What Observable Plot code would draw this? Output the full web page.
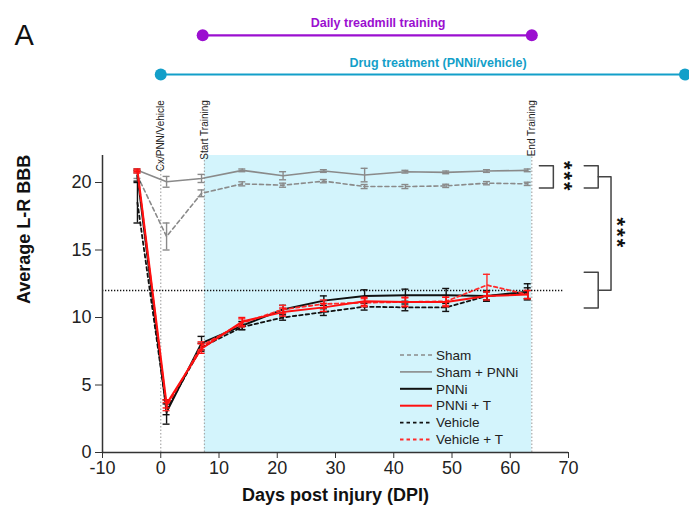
<!DOCTYPE html>
<html><head><meta charset="utf-8">
<script src="https://cdn.jsdelivr.net/npm/d3@7"></script>
<script src="https://cdn.jsdelivr.net/npm/@observablehq/plot@0.6"></script>
<style>
body{margin:0;background:#fff;font-family:"Liberation Sans",Arial,sans-serif;}
#chart{width:689px;height:520px;}
</style></head><body><div id="chart"></div>
<script>
// ---- data ----
const days = [-4, 1, 7, 14, 21, 28, 35, 42, 49, 56, 63];
const seriesNames = ["Sham", "Sham + PNNi", "PNNi", "PNNi + T", "Vehicle", "Vehicle + T"];
const sham      = [20.5, 16.0, 19.2, 19.9, 19.8, 20.1, 19.7, 19.7, 19.75, 19.95, 19.9];
const shamErr   = [0.2, 1.0, 0.25, 0.15, 0.15, 0.12, 0.15, 0.15, 0.12, 0.12, 0.12];
const shamPNNi    = [20.9, 20.05, 20.3, 20.9, 20.5, 20.85, 20.55, 20.8, 20.75, 20.85, 20.9];
const shamPNNiErr = [0.12, 0.4, 0.3, 0.1, 0.3, 0.1, 0.5, 0.1, 0.1, 0.1, 0.1];
const pnni      = [20.5, 3.0, 8.1, 9.4, 10.6, 11.25, 11.6, 11.65, 11.65, 11.6, 11.9];
const pnniErr   = [0.4, 0.9, 0.5, 0.3, 0.3, 0.35, 0.45, 0.45, 0.5, 0.4, 0.6];
const pnniT     = [20.9, 3.6, 7.7, 9.7, 10.4, 10.75, 11.2, 11.15, 11.15, 11.6, 11.7];
const pnniTErr  = [0.1, 0.3, 0.35, 0.3, 0.3, 0.3, 0.3, 0.35, 0.35, 0.3, 0.3];
const vehicle   = [18.5, 3.2, 7.8, 9.3, 10.0, 10.4, 10.8, 10.75, 10.75, 11.6, 11.8];
const vehicleErr= [1.5, 0.4, 0.3, 0.2, 0.2, 0.25, 0.25, 0.25, 0.3, 0.3, 0.4];
const vehicleT    = [20.8, 3.4, 7.9, 9.6, 10.6, 11.0, 11.1, 11.15, 11.2, 12.4, 11.7];
const vehicleTErr = [0.1, 0.3, 0.3, 0.3, 0.3, 0.3, 0.3, 0.3, 0.3, 0.8, 0.3];

const xTicks = [-10, 0, 10, 20, 30, 40, 50, 60, 70];
const yTicks = [0, 5, 10, 15, 20];

// events / timeline
const eventDays   = [0, 7.5, 63.7];
const eventLabels = ["Cx/PNN/Vehicle", "Start Training", "End Training"];
const trainingWindow = [7.5, 63.7];
const timelineLabels = ["Daily treadmill training", "Drug treatment (PNNi/vehicle)"];
const timelineStart  = [7.2, 0];
const timelineEnd    = [63.7, 90];
const timelineLevel  = [30.9, 28.0];
const timelineLabelDay = [37.3, 47.6];
const refLevel = 12;

// significance brackets (data units)
const bracketTop = [21.25, 19.6];   // sham+PNNi vs sham
const bracketLow = [13.35, 10.7];   // injured groups

// ---- styles ----
const colors = {"Sham":"#8a8a8a","Sham + PNNi":"#8a8a8a","PNNi":"#111","PNNi + T":"#ff1010","Vehicle":"#111","Vehicle + T":"#ff2a2a"};
const dashes = {"Sham":"4,3","Sham + PNNi":null,"PNNi":null,"PNNi + T":null,"Vehicle":"3.5,3","Vehicle + T":"3.5,3"};
const widths = {"Sham":1.6,"Sham + PNNi":1.6,"PNNi":2,"PNNi + T":2,"Vehicle":1.8,"Vehicle + T":1.8};
const tlColors = ["#9b0fd0", "#139fc9"];

const valuesBy = {"Sham":[sham,shamErr],"Sham + PNNi":[shamPNNi,shamPNNiErr],"PNNi":[pnni,pnniErr],"PNNi + T":[pnniT,pnniTErr],"Vehicle":[vehicle,vehicleErr],"Vehicle + T":[vehicleT,vehicleTErr]};
const drawOrder = ["Sham","Sham + PNNi","Vehicle","PNNi","Vehicle + T","PNNi + T"];

const seriesMarks = [];
for (const name of drawOrder) {
  const [vals, errs] = valuesBy[name];
  const rows = days.map((d, i) => ({day: d, v: vals[i], e: errs[i]}));
  const c = colors[name];
  seriesMarks.push(
    Plot.ruleX(rows, {x: "day", y1: r => r.v - r.e, y2: r => r.v + r.e, stroke: c, strokeWidth: 1.4}),
    Plot.ruleY(rows, {y: r => r.v - r.e, x1: r => r.day - 0.6, x2: r => r.day + 0.6, stroke: c, strokeWidth: 1.4}),
    Plot.ruleY(rows, {y: r => r.v + r.e, x1: r => r.day - 0.6, x2: r => r.day + 0.6, stroke: c, strokeWidth: 1.4}),
    Plot.line(rows, {x: "day", y: "v", stroke: c, strokeWidth: widths[name], strokeDasharray: dashes[name]})
  );
}

const tl = timelineLabels.map((l, i) => ({label: l, x1: timelineStart[i], x2: timelineEnd[i], y: timelineLevel[i], lx: timelineLabelDay[i], c: tlColors[i]}));
const ev = eventDays.map((d, i) => ({day: d, label: eventLabels[i]}));

const chart = Plot.plot({
  width: 689, height: 520,
  marginLeft: 102, marginRight: 121, marginTop: 155, marginBottom: 68,
  x: {domain: [-10, 70]},
  y: {domain: [0, 22]},
  style: {fontFamily: "Liberation Sans, Arial, sans-serif", background: "white", overflow: "visible", color: "#222"},
  marks: [
    Plot.rect([trainingWindow], {x1: d => d[0], x2: d => d[1], y1: 0, y2: 22, fill: "#d3f4fc"}),
    Plot.ruleX(ev, {x: "day", y1: 0, y2: 22, stroke: "#aaa", strokeWidth: 1.2, strokeDasharray: "1.5,2"}),
    Plot.text(ev, {x: "day", y: 26.1, text: "label", rotate: -90, textAnchor: "end", lineAnchor: "middle", fontSize: 10, fill: "#222"}),
    Plot.ruleY([refLevel], {x1: -10, x2: 69.2, stroke: "#111", strokeWidth: 1.3, strokeDasharray: "1.3,1.7"}),
    ...seriesMarks,
    // axes
    Plot.axisX({ticks: xTicks, tickFormat: d => String(d), tickSize: 6, tickPadding: 3, fontSize: 18, label: null, stroke: "#333"}),
    Plot.axisY({ticks: yTicks, tickFormat: d => String(d), tickSize: 7, tickPadding: 4, fontSize: 18, label: null, stroke: "#333"}),
    Plot.ruleX([-10], {y1: 0, y2: 22, stroke: "#333", strokeWidth: 1.5}),
    Plot.ruleY([0], {x1: -10, x2: 70, stroke: "#333", strokeWidth: 1.5}),
    Plot.text(["Average L-R BBB"], {frameAnchor: "left", dx: -78, rotate: -90, fontSize: 18, fontWeight: "bold", fill: "#111"}),
    Plot.text(["Days post injury (DPI)"], {frameAnchor: "bottom", dy: 48, fontSize: 18, fontWeight: "bold", fill: "#111"}),
    Plot.text(["A"], {frameAnchor: "top-left", dx: -88, dy: -131, fontSize: 29, fill: "#111"}),
    // timeline
    Plot.ruleY(tl, {y: "y", x1: "x1", x2: "x2", stroke: "c", strokeWidth: 2.2}),
    Plot.dot(tl, {x: "x1", y: "y", r: 6, fill: "c"}),
    Plot.dot(tl, {x: "x2", y: "y", r: 6, fill: "c"}),
    Plot.text(tl, {x: "lx", y: "y", dy: -12, text: "label", fill: "c", fontSize: 12.5, fontWeight: "bold"}),
    // brackets
    Plot.line([[65, bracketTop[0]], [67.4, bracketTop[0]], [67.4, bracketTop[1]], [65, bracketTop[1]]], {stroke: "#444", strokeWidth: 1.5}),
    Plot.line([[72.7, bracketTop[0]], [75.1, bracketTop[0]], [75.1, bracketTop[1]], [72.7, bracketTop[1]]], {stroke: "#444", strokeWidth: 1.5}),
    Plot.line([[72.7, bracketLow[0]], [75.1, bracketLow[0]], [75.1, bracketLow[1]], [72.7, bracketLow[1]]], {stroke: "#444", strokeWidth: 1.5}),
    Plot.line([[75.1, (bracketTop[0] + bracketTop[1]) / 2], [77.3, (bracketTop[0] + bracketTop[1]) / 2], [77.3, (bracketLow[0] + bracketLow[1]) / 2], [75.1, (bracketLow[0] + bracketLow[1]) / 2]], {stroke: "#444", strokeWidth: 1.5}),
    Plot.text(["***"], {x: 69.3, y: (bracketTop[0] + bracketTop[1]) / 2, rotate: 90, fontSize: 22, fontWeight: "bold", fill: "#111"}),
    Plot.text(["***"], {x: 78.3, y: ((bracketTop[0] + bracketTop[1]) / 2 + (bracketLow[0] + bracketLow[1]) / 2) / 2, rotate: 90, fontSize: 22, fontWeight: "bold", fill: "#111"})
  ]
});
document.getElementById("chart").appendChild(chart);

// legend
const svg = d3.select(chart);
const lg = svg.append("g").attr("font-family", "Liberation Sans, Arial, sans-serif").attr("font-size", 13.5).attr("text-anchor", "start");
seriesNames.forEach((name, i) => {
  const y = 355 + i * 16.9;
  lg.append("line").attr("x1", 400).attr("x2", 432).attr("y1", y).attr("y2", y)
    .attr("stroke", colors[name]).attr("stroke-width", widths[name])
    .attr("stroke-dasharray", dashes[name] || null);
  lg.append("text").attr("x", 436).attr("y", y).attr("dy", "0.35em").attr("fill", "#222").attr("text-anchor", "start").text(name);
});
svg.selectAll("text").filter(function(){ return this.textContent === "***"; }).attr("letter-spacing", "2px");
</script></body></html>
